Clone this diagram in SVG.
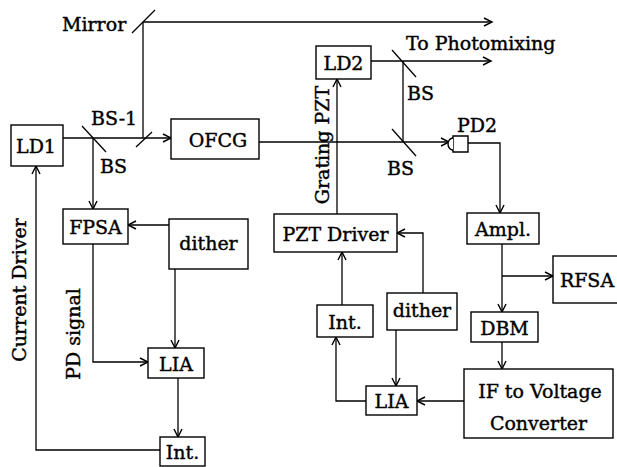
<svg xmlns="http://www.w3.org/2000/svg" width="617" height="467" viewBox="0 0 617 467" font-family="'DejaVu Serif', 'Liberation Serif', serif">
<style>
.box{fill:#fff;stroke:#000;stroke-width:1.4}
.t{font-size:19px;fill:#000;stroke:#000;stroke-width:0.4}
.c{text-anchor:middle}
.ln{fill:none;stroke:#000;stroke-width:1.3}
</style>
<defs>
<marker id="ar" markerUnits="userSpaceOnUse" markerWidth="12" markerHeight="12" refX="9" refY="5" orient="auto">
<path d="M1,1 L9,5 L1,9" fill="none" stroke="#000" stroke-width="1.4"/>
</marker>
</defs>
<rect width="617" height="467" fill="#fff"/>
<g id="connectors">
<line class="ln" x1="132" y1="33" x2="155" y2="10"/>
<path class="ln" d="M143,22 H492" marker-end="url(#ar)"/>
<path class="ln" d="M143,22 V138"/>
<line class="ln" x1="136" y1="147" x2="152" y2="132"/>
<path class="ln" d="M63,138 H171" marker-end="url(#ar)"/>
<line class="ln" x1="82" y1="126" x2="106" y2="152"/>
<path class="ln" d="M93,138 V209" marker-end="url(#ar)"/>
<path class="ln" d="M259,142 H449" marker-end="url(#ar)"/>
<path class="ln" d="M371,61 H491" marker-end="url(#ar)"/>
<line class="ln" x1="392" y1="50" x2="416" y2="77"/>
<path class="ln" d="M403,61 V142"/>
<line class="ln" x1="392" y1="129" x2="416" y2="156"/>
<path class="ln" d="M468,143 H500 V213" marker-end="url(#ar)"/>
<path class="ln" d="M337,214 V79" marker-end="url(#ar)"/>
<path class="ln" d="M169,225 H128" marker-end="url(#ar)"/>
<path class="ln" d="M175,269 V348" marker-end="url(#ar)"/>
<path class="ln" d="M93,244 V362 H148" marker-end="url(#ar)"/>
<path class="ln" d="M178,378 V437" marker-end="url(#ar)"/>
<path class="ln" d="M160,450 H36 V166" marker-end="url(#ar)"/>
<path class="ln" d="M423,293 V233 H397" marker-end="url(#ar)"/>
<path class="ln" d="M342,305 V252" marker-end="url(#ar)"/>
<path class="ln" d="M396,330 V386" marker-end="url(#ar)"/>
<path class="ln" d="M366,401 H336 V337" marker-end="url(#ar)"/>
<path class="ln" d="M464,401 H417" marker-end="url(#ar)"/>
<path class="ln" d="M502,244 V312" marker-end="url(#ar)"/>
<path class="ln" d="M502,276 H553" marker-end="url(#ar)"/>
<path class="ln" d="M502,342 V369" marker-end="url(#ar)"/>
</g>
<g id="labels">
<text class="t" x="62" y="31">Mirror</text>
<text class="t" x="91" y="125">BS-1</text>
<text class="t" x="100" y="173">BS</text>
<text class="t" x="406" y="50">To Photomixing</text>
<text class="t" x="407" y="100">BS</text>
<text class="t" x="387" y="175">BS</text>
<text class="t" x="457" y="132">PD2</text>
<text class="t c" transform="translate(26,290) rotate(-90)">Current Driver</text>
<text class="t c" transform="translate(80,334) rotate(-90)">PD signal</text>
<text class="t c" transform="translate(329,145) rotate(-90)">Grating PZT</text>
</g>
<g id="LD1"><rect class="box" x="11" y="125" width="52" height="41"/><text class="t c" x="36" y="153">LD1</text></g>
<g id="OFCG"><rect class="box" x="171" y="119" width="88" height="40"/><text class="t c" x="218" y="147">OFCG</text></g>
<g id="LD2"><rect class="box" x="316" y="46" width="55" height="33"/><text class="t c" x="343.5" y="70">LD2</text></g>
<g id="PD2"><path class="box" d="M453,136 H468 V152 H453 Z"/><path class="box" d="M453,138 A5,6 0 0 0 453,150"/></g>
<g id="FPSA"><rect class="box" x="63" y="209" width="65" height="35"/><text class="t c" x="95.5" y="234">FPSA</text></g>
<g id="dither1"><rect class="box" x="169" y="219" width="79" height="50"/><text class="t c" x="208.5" y="250">dither</text></g>
<g id="LIA1"><rect class="box" x="148" y="348" width="56" height="30"/><text class="t c" x="176" y="371">LIA</text></g>
<g id="Int1"><rect class="box" x="160" y="437" width="45" height="29"/><text class="t c" x="182.5" y="459">Int.</text></g>
<g id="PZTDriver"><rect class="box" x="274" y="214" width="123" height="38"/><text class="t c" x="335.5" y="241">PZT Driver</text></g>
<g id="dither2"><rect class="box" x="387" y="293" width="70" height="37"/><text class="t c" x="422" y="317">dither</text></g>
<g id="Int2"><rect class="box" x="317" y="305" width="56" height="32"/><text class="t c" x="345" y="329">Int.</text></g>
<g id="LIA2"><rect class="box" x="366" y="386" width="51" height="29"/><text class="t c" x="391.5" y="408">LIA</text></g>
<g id="IFConv"><rect class="box" x="464" y="369" width="149" height="69"/><text class="t c" x="540" y="398">IF to Voltage</text><text class="t c" x="538.5" y="430">Converter</text></g>
<g id="Ampl"><rect class="box" x="467" y="213" width="72" height="31"/><text class="t c" x="503" y="236">Ampl.</text></g>
<g id="RFSA"><rect class="box" x="553" y="256" width="68" height="47"/><text class="t c" x="587" y="287">RFSA</text></g>
<g id="DBM"><rect class="box" x="471" y="312" width="67" height="30"/><text class="t c" x="504.5" y="335">DBM</text></g>
</svg>
